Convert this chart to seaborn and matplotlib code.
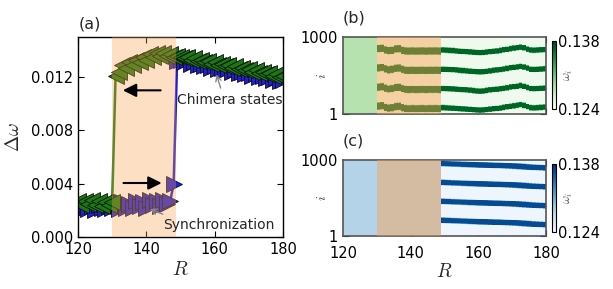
import numpy as np
import matplotlib
matplotlib.use("Agg")
import matplotlib.pyplot as plt
import seaborn as sns

# ---------------- data: panel (a) ----------------
R = list(range(120, 181))
dw_forward = [0.0022, 0.0020, 0.0024, 0.0021, 0.0023, 0.0020, 0.0024, 0.0022, 0.0021, 0.0023,
              0.0022, 0.0024, 0.0021, 0.0026, 0.0022, 0.0025, 0.0022, 0.0027, 0.0023, 0.0026,
              0.0022, 0.0028, 0.0024, 0.0027, 0.0023, 0.0028, 0.0025, 0.0027, 0.0040, 0.0132,
              0.0133, 0.0131, 0.0133, 0.0130, 0.0131, 0.0129, 0.0130, 0.0128, 0.0129, 0.0127,
              0.0128, 0.0126, 0.0127, 0.0125, 0.0126, 0.0124, 0.0125, 0.0123, 0.0124, 0.0122,
              0.0123, 0.0121, 0.0122, 0.0120, 0.0121, 0.0119, 0.0120, 0.0118, 0.0119, 0.0117, 0.0118]
dw_backward = [0.0027, 0.0024, 0.0027, 0.0025, 0.0028, 0.0024, 0.0027, 0.0023, 0.0026, 0.0024,
               0.0026, 0.0121, 0.0124, 0.0129, 0.0127, 0.0131, 0.0129, 0.0133, 0.0131, 0.0135,
               0.0133, 0.0137, 0.0135, 0.0138, 0.0136, 0.0138, 0.0136, 0.0137, 0.0135, 0.0136,
               0.0135, 0.0134, 0.0135, 0.0133, 0.0134, 0.0132, 0.0133, 0.0131, 0.0132, 0.0130,
               0.0131, 0.0129, 0.0130, 0.0128, 0.0129, 0.0127, 0.0128, 0.0126, 0.0127, 0.0125,
               0.0126, 0.0124, 0.0125, 0.0123, 0.0124, 0.0122, 0.0123, 0.0121, 0.0122, 0.0120, 0.0121]
hyst_lo, hyst_hi = 130, 148.7

# ---------------- data: panels (b), (c) ----------------
R_cols = list(range(120, 180))          # one heat-map column per R
i_max, i_min = 1000, 1
omega_min, omega_max = 0.124, 0.138
omega_sync = 0.1283                      # synchronized level
omega_low = 0.1247                       # incoherent background
omega_stripe = 0.1366                    # chimera stripe level
stripe_period = 250
n_stripes = 4
# centre (in i) of the top stripe, backward sweep, R = 130..179
b_stripe_R0 = 130
b_stripe_centre = [850, 855, 835, 825, 830, 845, 848, 830, 820, 818,
                   820, 818, 819, 820, 818, 820, 819, 820, 818,
                   832, 830, 828, 826, 822, 818, 815, 812, 808, 804, 800,
                   798, 800, 806, 812, 818, 822, 828, 835, 842, 850,
                   856, 862, 870, 860, 845, 832, 830, 832, 835, 838]
b_width_mid, b_width_right = 95, 72
# centre of the top stripe, forward sweep, R = 149..179
c_stripe_R0 = 149
c_stripe_centre = [955, 953, 952, 950, 949, 948, 946, 945, 943, 942,
                   940, 938, 937, 936, 934, 932, 931, 930, 928, 926,
                   924, 922, 920, 918, 915, 912, 910, 907, 905, 903, 900]
c_width = 75

x_ticks = [120, 140, 160, 180]
y_ticks_a = [0.000, 0.004, 0.008, 0.012]

# ---------------- style ----------------
sns.set_style("ticks")
plt.rcParams.update({
    "font.family": ["DejaVu Sans"],
    "mathtext.fontset": "cm",
    "xtick.direction": "in", "ytick.direction": "in",
    "xtick.top": True, "ytick.right": True,
    "xtick.major.size": 4, "ytick.major.size": 4,
    "xtick.color": "k", "ytick.color": "k",
    "axes.edgecolor": "k", "axes.linewidth": 1.0,
    "font.size": 10,
})

W, H = 613, 289
fig = plt.figure(figsize=(W / 100, H / 100), dpi=100)

def fr(l, t, r, b):
    return [l / W, 1 - b / H, (r - l) / W, (b - t) / H]

# ---------------- panel (a) ----------------
ax = fig.add_axes(fr(78, 37, 283, 237))
span_col = "#f9a04a"
sns.lineplot(x=R, y=dw_forward, ax=ax, color="#1f1fd6", lw=1.8, marker=">",
             markersize=11, markeredgecolor="#101010", markeredgewidth=0.6, zorder=2)
sns.lineplot(x=R, y=dw_backward, ax=ax, color="#1a7a12", lw=1.8, marker="<",
             markersize=11, markeredgecolor="#101010", markeredgewidth=0.6, zorder=2.1)
ax.axvspan(hyst_lo, hyst_hi, color=span_col, alpha=0.33, lw=0, zorder=3)
ax.set_xlim(120, 180)
ax.set_ylim(0, 0.015)
ax.set_xticks(x_ticks)
ax.set_yticks(y_ticks_a)
ax.set_yticklabels([f"{v:.3f}" for v in y_ticks_a])
ax.tick_params(labelsize=10.5)
ax.set_xlabel("$R$", fontsize=14, labelpad=2)
ax.set_ylabel(r"$\Delta\omega$", fontsize=14, labelpad=6)

ax.annotate("", xy=(132.3, 0.0110), xytext=(145, 0.0110),
            arrowprops=dict(arrowstyle="-|>", color="k", lw=1.5, mutation_scale=20), zorder=5)
ax.annotate("", xy=(145.3, 0.00405), xytext=(132.5, 0.00405),
            arrowprops=dict(arrowstyle="-|>", color="k", lw=1.5, mutation_scale=20), zorder=5)
ax.annotate("Chimera states", xy=(160.5, 0.0122), xytext=(148.9, 0.0103),
            fontsize=10, va="center", ha="left",
            arrowprops=dict(arrowstyle="->", color="#888888", lw=1.0,
                            shrinkA=1, shrinkB=0, relpos=(0.43, 1.0)), zorder=5)
ax.annotate("Synchronization", xy=(141.0, 0.0021), xytext=(145.0, 0.0009),
            fontsize=10, va="center", ha="left",
            arrowprops=dict(arrowstyle="->", color="#888888", lw=1.0,
                            shrinkA=1, shrinkB=0, relpos=(0.08, 1.0)), zorder=5)
fig.text(79 / W, 1 - 24 / H, "(a)", fontsize=11.5, va="center", ha="left")

# ---------------- heat-map matrices ----------------
nrows = 200
i_centres = np.linspace(i_max, i_min, nrows)
edge = 14.0

def stripe_column(centre, width):
    col = np.full(nrows, omega_low)
    for k in range(n_stripes):
        d = np.abs(i_centres - (centre - k * stripe_period))
        w = np.clip((width / 2 + edge / 2 - d) / edge, 0, 1)
        col = col + w * (omega_stripe - omega_low)
    return col

mat_b = np.zeros((nrows, len(R_cols)))
mat_c = np.zeros((nrows, len(R_cols)))
for j, r in enumerate(R_cols):
    if r < b_stripe_R0:
        mat_b[:, j] = omega_sync
    else:
        wdt = b_width_mid if r < c_stripe_R0 else b_width_right
        mat_b[:, j] = stripe_column(b_stripe_centre[r - b_stripe_R0], wdt)
    if r < c_stripe_R0:
        mat_c[:, j] = omega_sync
    else:
        mat_c[:, j] = stripe_column(c_stripe_centre[r - c_stripe_R0], c_width)

def heat_panel(mat, cmap, box, cbox, label, show_x):
    hax = fig.add_axes(fr(*box))
    cax = fig.add_axes(fr(*cbox))
    sns.heatmap(mat, ax=hax, cmap=cmap, vmin=omega_min, vmax=omega_max,
                cbar_ax=cax, xticklabels=False, yticklabels=False)
    hax.axvspan(hyst_lo - R_cols[0], 149 - R_cols[0], color=span_col, alpha=0.45, lw=0, zorder=3)
    for s in hax.spines.values():
        s.set_visible(True)
        s.set_color("#555555")
        s.set_linewidth(1.2)
    hax.set_xticks([t - R_cols[0] for t in x_ticks])
    hax.set_yticks([0, nrows])
    hax.set_yticklabels([str(i_max), str(i_min)], rotation=0)
    if show_x:
        hax.set_xticklabels([str(t) for t in x_ticks], rotation=0)
        hax.set_xlabel("$R$", fontsize=14, labelpad=1)
    else:
        hax.set_xticklabels([])
    hax.tick_params(direction="in", length=4, top=True, right=True,
                    bottom=True, left=True, labelsize=10.5, color="k")
    hax.tick_params(axis="x", pad=7)
    hax.text(-0.105, 0.5, "$i$", transform=hax.transAxes, fontsize=10,
             rotation=90, va="center", ha="center", color="#444444")
    cb = hax.collections[0].colorbar
    cb.set_ticks([omega_min, omega_max])
    cb.set_ticklabels([f"{omega_min:.3f}", f"{omega_max:.3f}"])
    cb.outline.set_visible(True)
    cb.outline.set_edgecolor("k")
    cb.outline.set_linewidth(0.8)
    cax.tick_params(length=0, labelsize=10.5, pad=2, right=True, left=False)
    cax.text(4.6, 0.5, r"$\omega_i$", transform=cax.transAxes, fontsize=9,
             rotation=90, va="center", ha="center", color="#555555")
    fig.text(box[0] / W, 1 - (box[1] - 19) / H, label, fontsize=11.5, va="center", ha="left")
    return hax

heat_panel(mat_b, "Greens", (343, 37, 546, 114), (552, 41, 555.5, 109), "(b)", False)
heat_panel(mat_c, "Blues", (343, 160, 546, 236), (552, 164, 555.5, 232), "(c)", True)

fig.savefig("out.png", dpi=100)
